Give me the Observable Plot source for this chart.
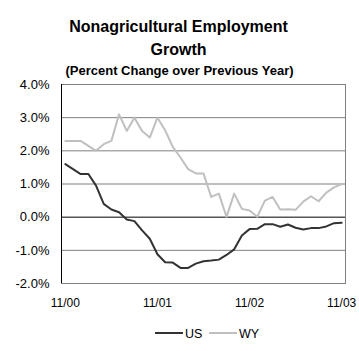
<!DOCTYPE html>
<html>
<head>
<meta charset="utf-8">
<script src="https://cdn.jsdelivr.net/npm/d3@7"></script>
<script src="https://cdn.jsdelivr.net/npm/@observablehq/plot@0.6"></script>
<style>
  html, body { margin: 0; padding: 0; background: white; }
  #wrap { position: relative; width: 359px; height: 351px; overflow: hidden; background: white;
          font-family: "Liberation Sans", Arial, sans-serif; color: black; }
  .t { position: absolute; left: 0; width: 359px; text-align: center; font-weight: bold; white-space: nowrap; }
  #chart { position: absolute; left: 0; top: 78px; }
  #chart [aria-label^="y-axis"] { font-size: 13px; }
  .sw { position: absolute; height: 2px; width: 28px; }
  .lt { position: absolute; font-size: 12.5px; line-height: 12px; white-space: nowrap; }
</style>
</head>
<body>
<div id="wrap">
  <div class="t" style="top:19px;font-size:16px;line-height:16px;left:-1px">Nonagricultural Employment</div>
  <div class="t" style="top:41.5px;font-size:16px;line-height:16px;left:-1px">Growth</div>
  <div class="t" style="top:64px;font-size:13px;line-height:13px;left:0px">(Percent Change over Previous Year)</div>
  <div id="chart"></div>
  <div id="legend"></div>
</div>
<script>
// Data: monthly year-over-year % change, Nov 2000 .. Nov 2003
const usValues = [1.60, 1.45, 1.30, 1.30, 0.95, 0.40, 0.23, 0.15, -0.07, -0.12, -0.40, -0.65,
                  -1.12, -1.36, -1.37, -1.53, -1.53, -1.40, -1.33, -1.31, -1.28, -1.14, -0.97, -0.55,
                  -0.36, -0.35, -0.21, -0.21, -0.29, -0.22, -0.32, -0.37, -0.33, -0.33, -0.28, -0.18, -0.17];
const wyValues = [2.30, 2.30, 2.30, 2.15, 2.00, 2.20, 2.30, 3.10, 2.60, 3.00, 2.60, 2.40,
                  3.00, 2.62, 2.12, 1.80, 1.45, 1.32, 1.32, 0.61, 0.71, 0.01, 0.71, 0.25,
                  0.20, 0.01, 0.50, 0.61, 0.23, 0.24, 0.22, 0.47, 0.63, 0.48, 0.74, 0.90, 1.00];
const tickLabels = ["11/00", "11/01", "11/02", "11/03"];
const tickIndex = [0, 12, 24, 36];
const yTicks = [-2, -1, 0, 1, 2, 3, 4];
const seriesNames = ["US", "WY"];
const seriesColors = ["#333333", "#c0c0c0"];

const n = usValues.length;
const rows = [];
usValues.forEach((v, i) => rows.push({series: "US", i, v}));
wyValues.forEach((v, i) => rows.push({series: "WY", i, v}));

const chart = Plot.plot({
  width: 359,
  height: 240,
  marginLeft: 61,
  marginRight: 14,
  marginTop: 6,
  marginBottom: 35,
  style: {fontFamily: '"Liberation Sans", Arial, sans-serif', fontSize: "12px", color: "black", background: "white", overflow: "visible"},
  x: {domain: [-0.5, n - 0.5], ticks: tickIndex, tickFormat: i => tickLabels[tickIndex.indexOf(i)], tickSize: 0, tickPadding: 15, label: null},
  y: {domain: [-2, 4], ticks: yTicks, tickFormat: d => d.toFixed(1) + "%", tickSize: 0, tickPadding: 12, label: null},
  color: {domain: seriesNames, range: seriesColors},
  marks: [
    Plot.ruleY(yTicks.filter(d => d !== 0), {stroke: "#808080", strokeWidth: 1}),
    Plot.frame({stroke: "#808080"}),
    Plot.ruleY([0], {stroke: "black"}),
    Plot.ruleX([-0.5], {stroke: "black"}),
    Plot.line(rows.filter(d => d.series === "WY"), {x: "i", y: "v", stroke: "series", strokeWidth: 2}),
    Plot.line(rows.filter(d => d.series === "US"), {x: "i", y: "v", stroke: "series", strokeWidth: 2})
  ]
});
document.getElementById("chart").appendChild(chart);

// Legend
const lg = document.getElementById("legend");
const legendPos = [{sw: 155, tx: 185}, {sw: 209, tx: 239}];
seriesNames.forEach((name, k) => {
  const s = document.createElement("div");
  s.className = "sw";
  s.style.left = legendPos[k].sw + "px";
  s.style.top = "332px";
  s.style.background = seriesColors[k];
  lg.appendChild(s);
  const t = document.createElement("div");
  t.className = "lt";
  t.style.left = legendPos[k].tx + "px";
  t.style.top = "327.5px";
  t.textContent = name;
  lg.appendChild(t);
});
</script>
</body>
</html>
